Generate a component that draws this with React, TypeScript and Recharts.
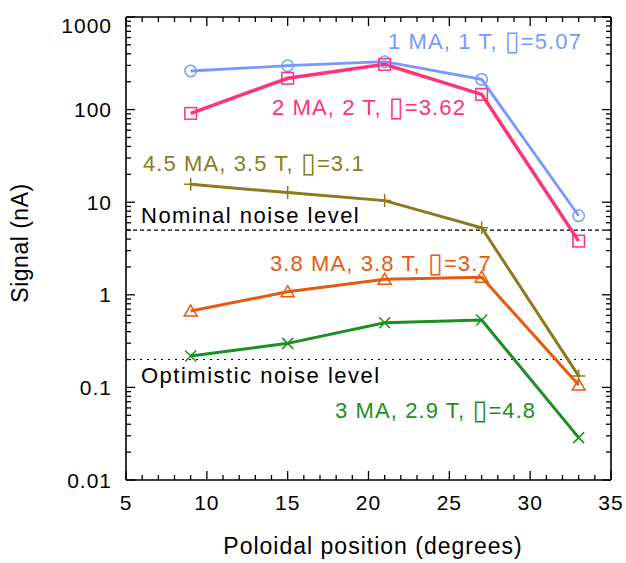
import React from 'react';
import { LineChart, Line, XAxis, YAxis, ReferenceLine } from 'recharts';

// Poloidal position (degrees)
const POSITIONS = [9, 15, 21, 27, 33];
// Signal (nA) per scenario
const SIG_1MA_1T = [261, 298, 329, 212, 7.14];
const SIG_2MA_2T = [91, 218, 308, 146, 3.8];
const SIG_45MA_35T = [15.6, 12.7, 10.4, 5.3, 0.133];
const SIG_38MA_38T = [0.668, 1.08, 1.47, 1.55, 0.106];
const SIG_3MA_29T = [0.218, 0.299, 0.5, 0.535, 0.0287];

const NOMINAL_NOISE = 5;
const OPTIMISTIC_NOISE = 0.2;

const X_MAJOR = [5, 10, 15, 20, 25, 30, 35];
const X_TICKS = [5, 6, 7, 8, 9, 10, 11, 12, 13, 14, 15, 16, 17, 18, 19, 20, 21, 22, 23, 24, 25, 26, 27, 28, 29, 30, 31, 32, 33, 34, 35];
const Y_DECADES = [0.01, 0.1, 1, 10, 100, 1000];
const Y_MULTS = [1, 2, 3, 4, 5, 6, 7, 8, 9];
const Y_TICKS = Y_DECADES.flatMap((d) => Y_MULTS.map((m) => +(d * m).toPrecision(3))).filter((v) => v <= 1000);
const Y_LABELS: Record<string, string> = { '0.01': '0.01', '0.1': '0.1', '1': '1', '10': '10', '100': '100', '1000': '1000' };

const data = POSITIONS.map((x, i) => ({
  x,
  s1: SIG_1MA_1T[i],
  s2: SIG_2MA_2T[i],
  s3: SIG_45MA_35T[i],
  s4: SIG_38MA_38T[i],
  s5: SIG_3MA_29T[i],
}));

const FONT = '"Liberation Sans", Arial, Helvetica, sans-serif';
const C_BLUE = '#7799FF';
const C_PINK = '#FF3377';
const C_OLIVE = '#8C7A1C';
const C_ORANGE = '#E65A10';
const C_GREEN = '#1A9020';

const TICK_W = 1.3;

const BottomTick = (p: any) => {
  const { x, y, payload } = p;
  const major = X_MAJOR.includes(payload.value);
  return (
    <g>
      <line x1={x} x2={x} y1={y} y2={y - (major ? 9 : 5)} stroke="#000" strokeWidth={TICK_W} />
      {major && (
        <text x={x} y={y + 30} textAnchor="middle" fontSize={21} fontFamily={FONT} letterSpacing={1} fill="#000">
          {payload.value}
        </text>
      )}
    </g>
  );
};

const TopTick = (p: any) => {
  const { x, y, payload } = p;
  const major = X_MAJOR.includes(payload.value);
  return <line x1={x} x2={x} y1={y} y2={y + (major ? 9 : 5)} stroke="#000" strokeWidth={TICK_W} />;
};

const LeftTick = (p: any) => {
  const { x, y, payload } = p;
  const label = Y_LABELS[String(payload.value)];
  const major = label !== undefined;
  const dy = payload.value === 1000 ? 15.5 : 7.5;
  return (
    <g>
      <line x1={x} x2={x + (major ? 9 : 5)} y1={y} y2={y} stroke="#000" strokeWidth={TICK_W} />
      {major && (
        <text x={x - 14} y={y + dy} textAnchor="end" fontSize={21} fontFamily={FONT} letterSpacing={1} fill="#000">
          {label}
        </text>
      )}
    </g>
  );
};

const RightTick = (p: any) => {
  const { x, y, payload } = p;
  const major = Y_LABELS[String(payload.value)] !== undefined;
  return <line x1={x} x2={x - (major ? 9 : 5)} y1={y} y2={y} stroke="#000" strokeWidth={TICK_W} />;
};

const circleDot = (color: string) => (p: any) => (
  <circle key={`c${p.index}`} cx={p.cx} cy={p.cy} r={5.7} fill="none" stroke={color} strokeWidth={1.5} />
);
const squareDot = (color: string) => (p: any) => (
  <rect key={`s${p.index}`} x={p.cx - 5.8} y={p.cy - 5.8} width={11.6} height={11.6} fill="none" stroke={color} strokeWidth={1.5} />
);
const plusDot = (color: string) => (p: any) => (
  <path key={`p${p.index}`} d={`M${p.cx - 6.5},${p.cy}H${p.cx + 6.5}M${p.cx},${p.cy - 6.5}V${p.cy + 6.5}`} stroke={color} strokeWidth={1.5} fill="none" />
);
const triDot = (color: string) => (p: any) => (
  <path key={`t${p.index}`} d={`M${p.cx},${p.cy - 6}L${p.cx + 6.5},${p.cy + 5}L${p.cx - 6.5},${p.cy + 5}Z`} stroke={color} strokeWidth={1.5} fill="none" />
);
const xDot = (color: string) => (p: any) => (
  <path key={`x${p.index}`} d={`M${p.cx - 5.5},${p.cy - 5.5}L${p.cx + 5.5},${p.cy + 5.5}M${p.cx - 5.5},${p.cy + 5.5}L${p.cx + 5.5},${p.cy - 5.5}`} stroke={color} strokeWidth={1.5} fill="none" />
);

const BOX = '\u25AF';

const seriesLabels = [
  { pre: '1 MA, 1 T, ', post: '=5.07', x: 388, y: 49, color: C_BLUE },
  { pre: '2 MA, 2 T, ', post: '=3.62', x: 272, y: 115, color: C_PINK },
  { pre: '4.5 MA, 3.5 T, ', post: '=3.1', x: 143, y: 171, color: C_OLIVE },
  { pre: '3.8 MA, 3.8 T, ', post: '=3.7', x: 270, y: 271, color: C_ORANGE },
  { pre: '3 MA, 2.9 T, ', post: '=4.8', x: 335, y: 418, color: C_GREEN },
];
const noiseLabels = [
  { text: 'Nominal noise level', x: 141, y: 223 },
  { text: 'Optimistic noise level', x: 141, y: 383 },
];

export default function App() {
  return (
    <div style={{ position: 'absolute', left: 0, top: 0, width: 626, height: 563, background: '#fff' }}>
      <LineChart width={626} height={563} data={data} margin={{ top: 12, right: 10, bottom: 23, left: 26 }}>
        <XAxis
          xAxisId="bottom"
          dataKey="x"
          type="number"
          domain={[5, 35]}
          ticks={X_TICKS}
          interval={0}
          orientation="bottom"
          height={60}
          tickSize={0}
          tickMargin={0}
          tickLine={false}
          tick={BottomTick}
          axisLine={{ stroke: '#000', strokeWidth: 1.6 }}
          allowDataOverflow
        />
        <XAxis
          xAxisId="top"
          dataKey="x"
          type="number"
          domain={[5, 35]}
          ticks={X_TICKS}
          interval={0}
          orientation="top"
          height={5}
          tickSize={0}
          tickMargin={0}
          tickLine={false}
          tick={TopTick}
          axisLine={{ stroke: '#000', strokeWidth: 1.6 }}
          allowDataOverflow
        />
        <YAxis
          yAxisId="left"
          type="number"
          scale="log"
          domain={[0.01, 1000]}
          ticks={Y_TICKS}
          interval={0}
          orientation="left"
          width={100}
          tickSize={0}
          tickMargin={0}
          tickLine={false}
          tick={LeftTick}
          axisLine={{ stroke: '#000', strokeWidth: 1.6 }}
          allowDataOverflow
        />
        <YAxis
          yAxisId="right"
          type="number"
          scale="log"
          domain={[0.01, 1000]}
          ticks={Y_TICKS}
          interval={0}
          orientation="right"
          width={5}
          tickSize={0}
          tickMargin={0}
          tickLine={false}
          tick={RightTick}
          axisLine={{ stroke: '#000', strokeWidth: 1.6 }}
          allowDataOverflow
        />
        <ReferenceLine xAxisId="bottom" yAxisId="left" y={NOMINAL_NOISE} stroke="#000" strokeWidth={1.2} strokeDasharray="4 3" />
        <ReferenceLine xAxisId="bottom" yAxisId="left" y={OPTIMISTIC_NOISE} stroke="#000" strokeWidth={1.2} strokeDasharray="2 5" />
        <Line xAxisId="bottom" yAxisId="left" dataKey="s1" stroke={C_BLUE} strokeWidth={2.8} dot={circleDot(C_BLUE)} activeDot={false} isAnimationActive={false} />
        <Line xAxisId="bottom" yAxisId="left" dataKey="s2" stroke={C_PINK} strokeWidth={3.5} dot={squareDot(C_PINK)} activeDot={false} isAnimationActive={false} />
        <Line xAxisId="bottom" yAxisId="left" dataKey="s3" stroke={C_OLIVE} strokeWidth={3} dot={plusDot(C_OLIVE)} activeDot={false} isAnimationActive={false} />
        <Line xAxisId="bottom" yAxisId="left" dataKey="s4" stroke={C_ORANGE} strokeWidth={3} dot={triDot(C_ORANGE)} activeDot={false} isAnimationActive={false} />
        <Line xAxisId="bottom" yAxisId="left" dataKey="s5" stroke={C_GREEN} strokeWidth={3} dot={xDot(C_GREEN)} activeDot={false} isAnimationActive={false} />
      </LineChart>
      <svg width={626} height={563} style={{ position: 'absolute', left: 0, top: 0, pointerEvents: 'none' }}>
        {seriesLabels.map((a) => (
          <text key={a.pre} x={a.x} y={a.y} fill={a.color} fontSize={22} fontFamily={FONT} letterSpacing={1.1}>
            {a.pre}
            <tspan fontSize={27} fontFamily="DejaVu Sans" dy={1}>{BOX}</tspan>
            <tspan dy={-1}>{a.post}</tspan>
          </text>
        ))}
        {noiseLabels.map((a) => (
          <text key={a.text} x={a.x} y={a.y} fill="#000" fontSize={22} fontFamily={FONT} letterSpacing={1.5}>
            {a.text}
          </text>
        ))}
        <text x={373} y={554} textAnchor="middle" fontSize={23} fontFamily={FONT} letterSpacing={1} fill="#000">
          Poloidal position (degrees)
        </text>
        <text x={28} y={243} textAnchor="middle" fontSize={23} fontFamily={FONT} letterSpacing={0.5} fill="#000" transform="rotate(-90 28 243)">
          Signal (nA)
        </text>
      </svg>
    </div>
  );
}
